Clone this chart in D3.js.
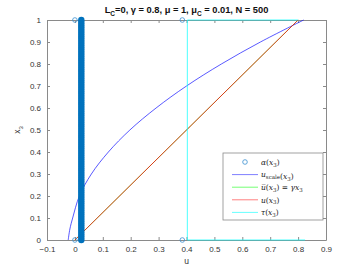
<!DOCTYPE html>
<html>
<head>
<meta charset="utf-8">
<script src="https://cdn.jsdelivr.net/npm/d3@7"></script>
<style>
  body { margin: 0; background: #fff; }
  svg { display: block; }
</style>
</head>
<body>
<div class="chart"></div>
<script>
// ---- data ----
const xTicks = [-0.1, 0, 0.1, 0.2, 0.3, 0.4, 0.5, 0.6, 0.7, 0.8, 0.9];
const yTicks = [0, 0.1, 0.2, 0.3, 0.4, 0.5, 0.6, 0.7, 0.8, 0.9, 1];

// u_scale(x3), blue curve
const scaleX3 = [0, 0.05, 0.1, 0.2, 0.3, 0.4, 0.5, 0.6, 0.7, 0.8, 0.9, 1];
const scaleU  = [-0.024, -0.018, -0.008, 0.016, 0.059, 0.12, 0.197, 0.291, 0.4, 0.525, 0.665, 0.82];

// ubar(x3) = gamma*x3 (green) and u(x3) (red) lie on top of each other
const barX3 = [0, 1];
const barU  = [0, 0.8];
const uX3 = [0, 1];
const uU  = [0, 0.8];

// tau(x3), cyan
const tauU  = [0.825, 0.403, 0.403, 0.80];
const tauX3 = [0, 0, 1, 1];

// alpha(x3) markers: a column at u = 0.023 plus a few single ones
const alphaColX3 = [0,0.01,0.02,0.03,0.04,0.05,0.06,0.07,0.08,0.09,0.1,0.11,0.12,0.13,0.14,0.15,0.16,0.17,0.18,0.19,
  0.2,0.21,0.22,0.23,0.24,0.25,0.26,0.27,0.28,0.29,0.3,0.31,0.32,0.33,0.34,0.35,0.36,0.37,0.38,0.39,
  0.4,0.41,0.42,0.43,0.44,0.45,0.46,0.47,0.48,0.49,0.5,0.51,0.52,0.53,0.54,0.55,0.56,0.57,0.58,0.59,
  0.6,0.61,0.62,0.63,0.64,0.65,0.66,0.67,0.68,0.69,0.7,0.71,0.72,0.73,0.74,0.75,0.76,0.77,0.78,0.79,
  0.8,0.81,0.82,0.83,0.84,0.85,0.86,0.87,0.88,0.89,0.9,0.91,0.92,0.93,0.94,0.95,0.96,0.97,0.98,0.99,1];
const alphaColU = 0.023;
const alphaSingleU  = [0, 0, 0.385, 0.385];
const alphaSingleX3 = [0, 1, 1, 0];

const width = 360, height = 270;
const margin = {top: 20, left: 47, right: 34, bottom: 30};
const w = width - margin.left - margin.right,
      h = height - margin.top - margin.bottom;

const svg = d3.select(".chart")
  .append("svg")
  .attr("width", width)
  .attr("height", height);

const x = d3.scaleLinear().domain([-0.1, 0.9]).range([margin.left, margin.left + w]);
const y = d3.scaleLinear().domain([0, 1]).range([margin.top + h, margin.top]);

const axisColor = "#8a8a8a";
const tickFont = "'Liberation Sans', Arial, sans-serif";

// axes, ticks inside, box on
const gx = svg.append("g").attr("transform", `translate(0,${margin.top + h})`)
  .call(d3.axisBottom(x).tickValues(xTicks).tickFormat(d3.format("")).tickSizeInner(-3).tickSizeOuter(0).tickPadding(6));
const gxt = svg.append("g").attr("transform", `translate(0,${margin.top})`)
  .call(d3.axisTop(x).tickValues(xTicks).tickFormat("").tickSizeInner(-3).tickSizeOuter(0));
const gy = svg.append("g").attr("transform", `translate(${margin.left},0)`)
  .call(d3.axisLeft(y).tickValues(yTicks).tickFormat(d3.format("")).tickSizeInner(-3).tickSizeOuter(0).tickPadding(6));
const gyr = svg.append("g").attr("transform", `translate(${margin.left + w},0)`)
  .call(d3.axisRight(y).tickValues(yTicks).tickFormat("").tickSizeInner(-3).tickSizeOuter(0));

[gx, gxt, gy, gyr].forEach(g => {
  g.selectAll("path, line").attr("stroke", axisColor);
  g.selectAll("text").attr("fill", "#333").style("font-family", tickFont).style("font-size", "8px");
});

const line = d3.line().x(d => x(d[0])).y(d => y(d[1]));
const smooth = d3.line().x(d => x(d[0])).y(d => y(d[1])).curve(d3.curveCatmullRom);
const zipped = (us, xs) => us.map((u, i) => [u, xs[i]]);

const plot = svg.append("g");

plot.append("path")
  .datum(zipped(scaleU, scaleX3))
  .attr("d", smooth)
  .attr("fill", "none")
  .attr("stroke", "blue").attr("stroke-opacity", 0.65).attr("stroke-width", 1);

plot.append("path")
  .datum(zipped(barU, barX3))
  .attr("d", line)
  .attr("fill", "none")
  .attr("stroke", "#00ff00").attr("stroke-opacity", 0.6).attr("stroke-width", 1);

plot.append("path")
  .datum(zipped(uU, uX3))
  .attr("d", line)
  .attr("fill", "none")
  .attr("stroke", "red").attr("stroke-opacity", 0.75).attr("stroke-width", 1);

plot.append("path")
  .datum(zipped(tauU, tauX3))
  .attr("d", line)
  .attr("fill", "none")
  .attr("stroke", "cyan").attr("stroke-opacity", 0.7).attr("stroke-width", 1);

// alpha markers (the 500 samples stack into a solid bar)
const alphaColor = "#0072BD";
plot.append("g")
  .selectAll("circle")
  .data(alphaColX3)
  .join("circle")
  .attr("cx", x(alphaColU))
  .attr("cy", d => y(d))
  .attr("r", 2)
  .attr("fill", "none")
  .attr("stroke", alphaColor)
  .attr("stroke-width", 2.4);

plot.append("g")
  .selectAll("circle")
  .data(zipped(alphaSingleU, alphaSingleX3))
  .join("circle")
  .attr("cx", d => x(d[0]))
  .attr("cy", d => y(d[1]))
  .attr("r", 2.3)
  .attr("fill", "none")
  .attr("stroke", "#3a8fd0")
  .attr("stroke-width", 0.8);

// title
const title = svg.append("text")
  .attr("x", margin.left + w / 2)
  .attr("y", 13)
  .attr("text-anchor", "middle")
  .style("font-family", tickFont)
  .style("font-size", "9.3px")
  .style("font-weight", "bold")
  .attr("fill", "#111");
title.append("tspan").text("L");
title.append("tspan").attr("dy", 2.5).style("font-size", "6.5px").text("C");
title.append("tspan").attr("dy", -2.5).text("=0, \u03B3 = 0.8, \u03BC = 1, \u03BC");
title.append("tspan").attr("dy", 2.5).style("font-size", "6.5px").text("C");
title.append("tspan").attr("dy", -2.5).text(" = 0.01, N = 500");

// axis labels
svg.append("text")
  .attr("x", margin.left + w / 2)
  .attr("y", 264)
  .attr("text-anchor", "middle")
  .style("font-family", tickFont).style("font-size", "8.5px")
  .attr("fill", "#333")
  .text("u");

const yl = svg.append("text")
  .attr("transform", `translate(20,${margin.top + h / 2}) rotate(-90)`)
  .attr("text-anchor", "middle")
  .style("font-family", tickFont).style("font-size", "8.5px")
  .attr("fill", "#333");
yl.append("tspan").text("x");
yl.append("tspan").attr("dy", 2.5).style("font-size", "6px").text("3");

// legend
const lg = svg.append("g").attr("transform", "translate(223,153)");
lg.append("rect")
  .attr("width", 100).attr("height", 67)
  .attr("fill", "white").attr("stroke", axisColor).attr("stroke-width", 0.8);

const legendItems = [
  {type: "marker", color: "#3a8fd0"},
  {type: "line", color: "blue", op: 0.5},
  {type: "line", color: "#00ff00", op: 0.55},
  {type: "line", color: "red", op: 0.5},
  {type: "line", color: "cyan", op: 0.6}
];
const serif = "'DejaVu Serif', 'Liberation Serif', serif";
const rowY = i => 9 + i * 12.6;

legendItems.forEach((d, i) => {
  if (d.type === "marker") {
    lg.append("circle").attr("cx", 22).attr("cy", rowY(i)).attr("r", 2.3)
      .attr("fill", "none").attr("stroke", d.color).attr("stroke-width", 0.8);
  } else {
    lg.append("line").attr("x1", 9).attr("x2", 35).attr("y1", rowY(i)).attr("y2", rowY(i))
      .attr("stroke", d.color).attr("stroke-opacity", d.op).attr("stroke-width", 1);
  }
});

function legText(i) {
  return lg.append("text").attr("x", 38).attr("y", rowY(i) + 2.8)
    .style("font-family", serif).style("font-size", "7.5px").attr("fill", "#222");
}
function addX3(t) {
  t.append("tspan").text("(");
  t.append("tspan").style("font-style", "italic").text("x");
  t.append("tspan").attr("dy", 1.8).style("font-size", "5.5px").text("3");
  t.append("tspan").attr("dy", -1.8).text(")");
}
let t = legText(0);
t.append("tspan").style("font-style", "italic").text("\u03B1");
addX3(t);

t = legText(1);
t.append("tspan").style("font-style", "italic").text("u");
t.append("tspan").attr("dy", 1.8).style("font-size", "5.5px").text("scale");
t.append("tspan").attr("dy", -1.8).text("");
addX3(t);

t = legText(2);
t.append("tspan").style("font-style", "italic").text("u\u0305");
addX3(t);
t.append("tspan").text(" = ");
t.append("tspan").style("font-style", "italic").text("\u03B3x");
t.append("tspan").attr("dy", 1.8).style("font-size", "5.5px").text("3");

t = legText(3);
t.append("tspan").style("font-style", "italic").text("u");
addX3(t);

t = legText(4);
t.append("tspan").style("font-style", "italic").text("\u03C4");
addX3(t);
</script>
</body>
</html>
